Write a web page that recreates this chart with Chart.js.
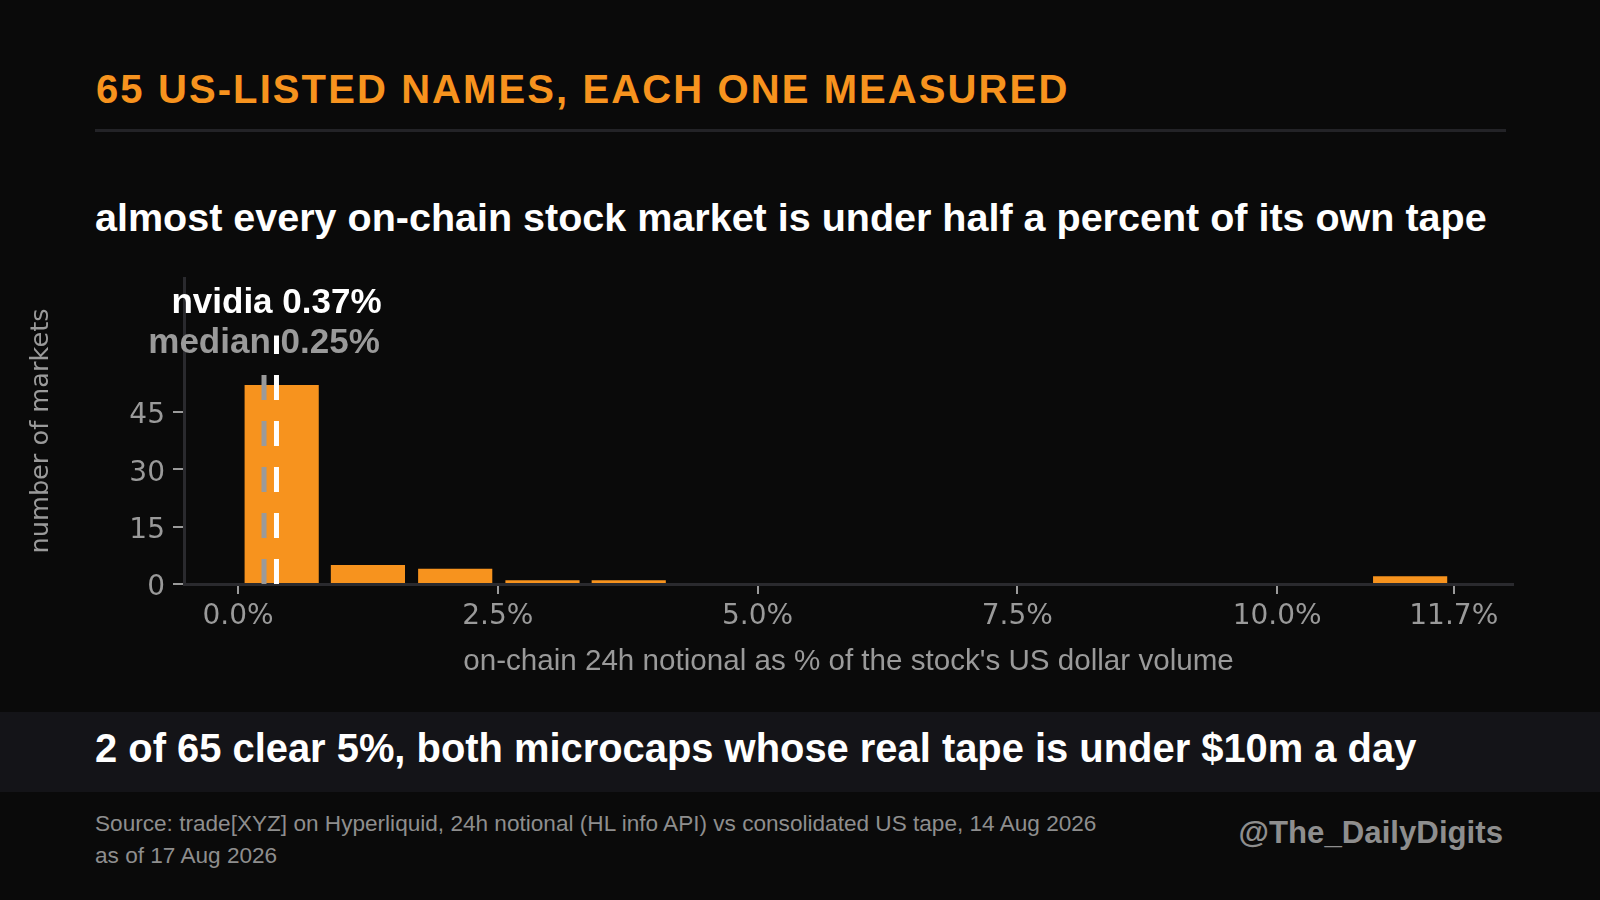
<!DOCTYPE html>
<html>
<head>
<meta charset="utf-8">
<script src="https://cdn.jsdelivr.net/npm/chart.js@4.4.1/dist/chart.umd.min.js"></script>
<style>
  html, body { margin: 0; padding: 0; background: #0a0a0a; }
  #page { position: relative; width: 1600px; height: 900px; overflow: hidden; font-family: "Liberation Sans", Arial, sans-serif; }
  .t { position: absolute; white-space: nowrap; line-height: 1; }
  #title { left: 96px; top: 69px; color: #f7931e; font-weight: bold; font-size: 40px; letter-spacing: 2.1px; }
  #rule { position: absolute; left: 95px; top: 129px; width: 1411px; height: 3px; background: #232327; }
  #subtitle { left: 95px; top: 198px; color: #ffffff; font-weight: bold; font-size: 39.5px; }
  #band { position: absolute; left: 0; top: 712px; width: 1600px; height: 80px; background: #141418; }
  #takeaway { left: 95px; top: 729px; color: #ffffff; font-weight: bold; font-size: 39.9px; }
  #source { left: 95px; top: 808px; color: #8e8e8e; font-size: 22.6px; line-height: 32px; }
  #handle { right: 97px; top: 817px; color: #8e8e8e; font-weight: bold; font-size: 31.2px; }
  #chartBox { position: absolute; left: 0; top: 250px; width: 1600px; height: 450px; }
</style>
</head>
<body>
<div id="page">
  <div class="t" id="title">65 US-LISTED NAMES, EACH ONE MEASURED</div>
  <div id="rule"></div>
  <div class="t" id="subtitle">almost every on-chain stock market is under half a percent of its own tape</div>
  <div id="chartBox"><canvas id="hist" width="1600" height="450"></canvas></div>
  <div id="band"></div>
  <div class="t" id="takeaway">2 of 65 clear 5%, both microcaps whose real tape is under $10m a day</div>
  <div class="t" id="source">Source: trade[XYZ] on Hyperliquid, 24h notional (HL info API) vs consolidated US tape, 14 Aug 2026<br>as of 17 Aug 2026</div>
  <div class="t" id="handle">@The_DailyDigits</div>
</div>
<script>
// histogram bins (centre of each bin, % of US dollar volume) and market counts
var binCenters = [0.42, 1.25, 2.09, 2.93, 3.76, 4.60, 5.43, 6.27, 7.10, 7.94, 8.78, 9.61, 10.45, 11.28];
var marketCounts = [52, 5, 4, 1, 1, 0, 0, 0, 0, 0, 0, 0, 0, 2];

// axis ticks
var xTicks = [0, 2.5, 5, 7.5, 10, 11.7];
var yTicks = [0, 15, 30, 45];

// reference lines
var markNames = ['median', 'nvidia'];
var markValues = [0.25, 0.37];
var markColors = ['#9a9a9a', '#ffffff'];

var refLines = {
  id: 'refLines',
  afterDatasetsDraw: function (chart) {
    var ctx = chart.ctx, x = chart.scales.x, y = chart.scales.y;
    var lineTop = [55, 65], textAt = [60.4, 70.8];
    ctx.save();
    for (var i = 0; i < markValues.length; i++) {
      var px = x.getPixelForValue(markValues[i]);
      ctx.setLineDash([25, 21]);
      ctx.lineWidth = 5;
      ctx.lineCap = 'butt';
      ctx.strokeStyle = markColors[i];
      ctx.beginPath();
      ctx.moveTo(px, y.getPixelForValue(0));
      ctx.lineTo(px, y.getPixelForValue(lineTop[i]));
      ctx.stroke();
    }
    ctx.setLineDash([]);
    ctx.font = 'bold 35px "Liberation Sans"';
    ctx.textAlign = 'center';
    ctx.textBaseline = 'alphabetic';
    for (var j = 0; j < markValues.length; j++) {
      ctx.fillStyle = markColors[j];
      ctx.fillText(markNames[j] + ' ' + markValues[j].toFixed(2) + '%', x.getPixelForValue(markValues[j]), y.getPixelForValue(textAt[j]));
    }
    ctx.restore();
  }
};

window.addEventListener('load', function () {
  var ctx = document.getElementById('hist').getContext('2d');
  var chart = new Chart(ctx, {
    type: 'bar',
    data: {
      datasets: [{
        data: binCenters.map(function (c, i) { return { x: c, y: marketCounts[i] }; }),
        backgroundColor: '#f7931e',
        borderWidth: 0,
        categoryPercentage: 1,
        barPercentage: 0.86
      }]
    },
    options: {
      responsive: false,
      animation: false,
      devicePixelRatio: 1,
      layout: { padding: { left: 0, right: 87, top: 28, bottom: 0 } },
      plugins: { legend: { display: false }, tooltip: { enabled: false } },
      scales: {
        x: {
          type: 'linear',
          offset: false,
          min: -0.52,
          max: 12.27,
          afterBuildTicks: function (s) { s.ticks = xTicks.map(function (v) { return { value: v }; }); },
          afterFit: function (s) { s.height = 116; },
          grid: { offset: false, drawOnChartArea: false, color: '#9a9a9a', lineWidth: 2, tickLength: 10 },
          border: { color: '#2a2a2e', width: 3 },
          ticks: {
            color: '#9a9a9a',
            padding: 6,
            maxRotation: 0,
            font: { family: 'DejaVu Sans', size: 28 },
            callback: function (v) { return v.toFixed(1) + '%'; }
          },
          title: {
            display: true,
            text: "on-chain 24h notional as % of the stock's US dollar volume",
            color: '#9a9a9a',
            font: { family: 'Liberation Sans', size: 29.6 },
            padding: { top: 0, bottom: 20 }
          }
        },
        y: {
          min: 0,
          max: 80,
          afterBuildTicks: function (s) { s.ticks = yTicks.map(function (v) { return { value: v }; }); },
          afterFit: function (s) { s.width = 184; },
          grid: { drawOnChartArea: false, color: '#9a9a9a', lineWidth: 2, tickLength: 11 },
          border: { color: '#2a2a2e', width: 3 },
          ticks: {
            color: '#9a9a9a',
            padding: 8,
            labelOffset: 4,
            font: { family: 'DejaVu Sans', size: 28 }
          },
          title: {
            display: true,
            text: 'number of markets',
            color: '#9a9a9a',
            font: { family: 'DejaVu Sans', size: 25.6 },
            padding: { top: 26, bottom: 0 }
          }
        }
      }
    },
    plugins: [refLines]
  });
});
</script>
</body>
</html>
